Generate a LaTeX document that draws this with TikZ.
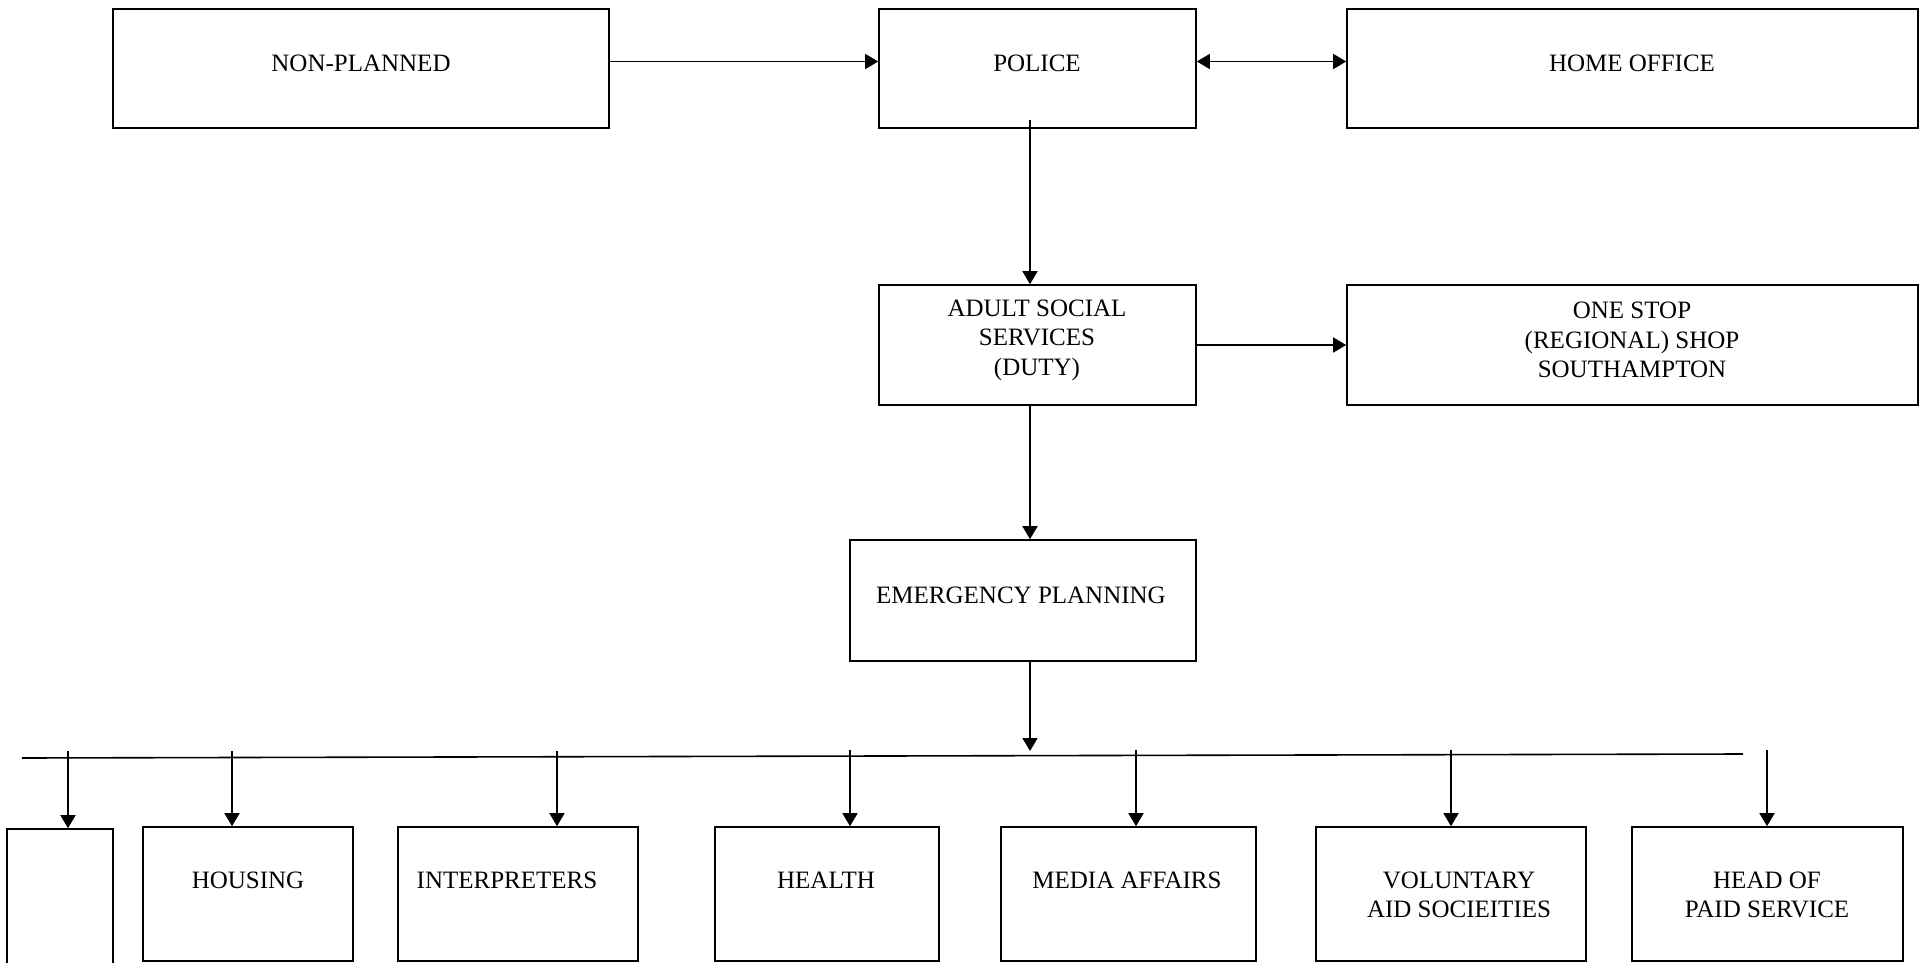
\documentclass[tikz,border=0pt]{standalone}
\usepackage{fontspec}
\setmainfont{Liberation Serif}
\usetikzlibrary{arrows.meta}
\tikzset{
  box/.style={draw, line width=1.6pt, inner sep=0pt, rectangle},
  lbl/.style={inner sep=0pt, align=center, font=\fontsize{25}{29.5}\selectfont},
  arr/.style={line width=1.6pt, -{Triangle[length=13pt,width=15pt]}},
  darr/.style={line width=1.6pt, {Triangle[length=13pt,width=15pt]}-{Triangle[length=13pt,width=15pt]}},
  bus/.style={line width=1.6pt}
}
\begin{document}
\begin{tikzpicture}[x=1pt,y=-1pt]
\useasboundingbox (0,0) rectangle (1925,963);
% top row
\node[box, minimum width=496pt, minimum height=119pt] (np) at (361,68.5) {};
\node[box, minimum width=317pt, minimum height=119pt] (police) at (1037.5,68.5) {};
\node[box, minimum width=571pt, minimum height=119pt] (home) at (1632.5,68.5) {};
% middle
\node[box, minimum width=317pt, minimum height=120pt] (adult) at (1037.5,345) {};
\node[box, minimum width=571pt, minimum height=120pt] (onestop) at (1632.5,345) {};
\node[box, minimum width=346pt, minimum height=121pt] (emerg) at (1023,600.5) {};
% bottom row
\node[box, minimum width=106pt, minimum height=171pt] (blank) at (60,914.5) {};
\node[box, minimum width=210pt, minimum height=134pt] (housing) at (248,894) {};
\node[box, minimum width=240pt, minimum height=134pt] (interp) at (518,894) {};
\node[box, minimum width=224pt, minimum height=134pt] (health) at (827,894) {};
\node[box, minimum width=255pt, minimum height=134pt] (media) at (1128.5,894) {};
\node[box, minimum width=270pt, minimum height=134pt] (vol) at (1451,894) {};
\node[box, minimum width=271pt, minimum height=134pt] (head) at (1767.5,894) {};
% texts
\node[lbl] (tnp) at (361,63) {NON-PLANNED};
\node[lbl] (tpolice) at (1037,63) {POLICE};
\node[lbl] (thome) at (1632,63) {HOME OFFICE};
\node[lbl] (tadult) at (1037,340) {ADULT SOCIAL\\SERVICES\\(DUTY)};
\node[lbl] (tonestop) at (1632,340) {ONE STOP\\(REGIONAL) SHOP\\SOUTHAMPTON};
\node[lbl] (temerg) at (1021,595) {EMERGENCY PLANNING};
\node[lbl] (thousing) at (248,880) {HOUSING};
\node[lbl] (tinterp) at (507,880) {INTERPRETERS};
\node[lbl] (thealth) at (826,880) {HEALTH};
\node[lbl] (tmedia) at (1127,880) {MEDIA AFFAIRS};
\node[lbl] (tvol) at (1459,895) {VOLUNTARY\\AID SOCIEITIES};
\node[lbl] (thead) at (1767,895) {HEAD OF\\PAID SERVICE};
% connectors
\draw[arr] ([yshift=7pt]np.east) -- ([yshift=7pt]police.west);
\draw[darr] ([yshift=7pt]police.east) -- ([yshift=7pt]home.west);
\draw[arr] ([xshift=-7.5pt,yshift=9pt]police.south) -- ([xshift=-7.5pt]adult.north);
\draw[arr] (adult.east) -- (onestop.west);
\draw[arr] ([xshift=-7.5pt]adult.south) -- ([xshift=-7.5pt]adult.south |- emerg.north);
\coordinate (busmid) at (1030,751);
\draw[arr] ([xshift=7pt]emerg.south) -- (busmid);
% bus line
\coordinate (busL) at (22,758);
\coordinate (busR) at (1743,754);
\draw[bus] (busL) -- (busR);
\coordinate (b1) at (68,751);
\coordinate (b2) at (232,751);
\coordinate (b3) at (557,751);
\coordinate (b4) at (850,750);
\coordinate (b5) at (1136,750);
\coordinate (b6) at (1451,750);
\coordinate (b7) at (1767,750);
\draw[arr] (b1) -- (b1 |- blank.north);
\draw[arr] (b2) -- (b2 |- housing.north);
\draw[arr] (b3) -- (b3 |- interp.north);
\draw[arr] (b4) -- (b4 |- health.north);
\draw[arr] (b5) -- (b5 |- media.north);
\draw[arr] (b6) -- (b6 |- vol.north);
\draw[arr] (b7) -- (b7 |- head.north);
\end{tikzpicture}
\end{document}
